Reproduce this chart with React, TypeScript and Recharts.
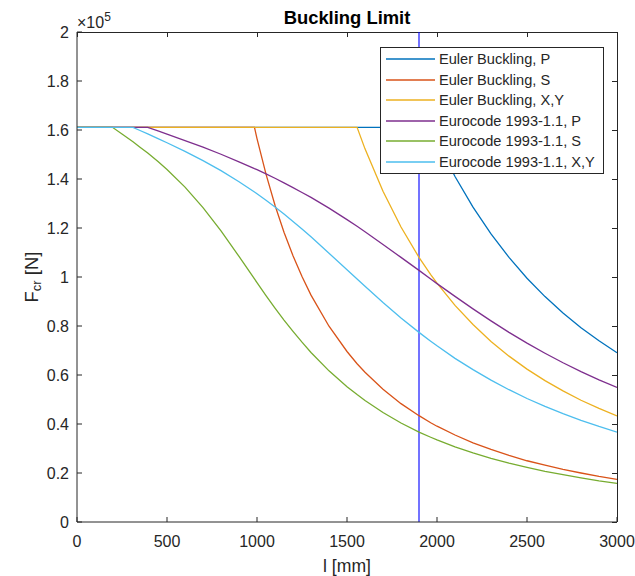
import { useLayoutEffect } from 'react';
import { LineChart, Line, XAxis, YAxis, Legend, ReferenceLine } from 'recharts';

const FONT = '"Liberation Sans", Arial, Helvetica, sans-serif';
const INK  = '#262626';

// column length l [mm]
const LENGTHS = [
  0, 100, 197, 250, 311, 350, 393, 450, 500, 600, 700, 800, 900, 986, 1000, 1050, 1100, 1150, 1200, 1250,
  1300, 1400, 1500, 1556, 1600, 1700, 1800, 1900, 1965, 2000, 2100, 2200, 2300, 2400, 2500, 2600, 2700, 2800, 2900, 3000,
];

// critical force F_cr, in units of 1e5 N
const EULER_P = [
  1.611, 1.611, 1.611, 1.611, 1.611, 1.611, 1.611, 1.611, 1.611, 1.611, 1.611, 1.611, 1.611, 1.611, 1.611, 1.611, 1.611, 1.611, 1.611, 1.611,
  1.611, 1.611, 1.611, 1.611, 1.611, 1.611, 1.611, 1.611, 1.611, 1.555, 1.410, 1.285, 1.176, 1.080, 0.995, 0.920, 0.853, 0.793, 0.740, 0.691,
];
const EULER_S = [
  1.611, 1.611, 1.611, 1.611, 1.611, 1.611, 1.611, 1.611, 1.611, 1.611, 1.611, 1.611, 1.611, 1.611, 1.565, 1.420, 1.293, 1.183, 1.087, 1.002,
  0.926, 0.799, 0.696, 0.646, 0.611, 0.542, 0.483, 0.434, 0.405, 0.391, 0.355, 0.323, 0.296, 0.272, 0.250, 0.232, 0.215, 0.200, 0.186, 0.174,
];
const EULER_XY = [
  1.611, 1.611, 1.611, 1.611, 1.611, 1.611, 1.611, 1.611, 1.611, 1.611, 1.611, 1.611, 1.611, 1.611, 1.611, 1.611, 1.611, 1.611, 1.611, 1.611,
  1.611, 1.611, 1.611, 1.611, 1.523, 1.350, 1.204, 1.080, 1.010, 0.975, 0.884, 0.806, 0.737, 0.677, 0.624, 0.577, 0.535, 0.497, 0.464, 0.433,
];
const EC_P = [
  1.611, 1.611, 1.611, 1.611, 1.611, 1.611, 1.611, 1.596, 1.583, 1.557, 1.530, 1.501, 1.470, 1.442, 1.438, 1.421, 1.403, 1.384, 1.365, 1.345,
  1.325, 1.281, 1.234, 1.207, 1.185, 1.133, 1.080, 1.027, 0.992, 0.973, 0.921, 0.870, 0.821, 0.774, 0.730, 0.689, 0.650, 0.614, 0.580, 0.549,
];
const EC_S = [
  1.611, 1.611, 1.611, 1.584, 1.552, 1.530, 1.506, 1.471, 1.439, 1.367, 1.283, 1.188, 1.084, 0.992, 0.977, 0.924, 0.873, 0.824, 0.778, 0.734,
  0.692, 0.617, 0.552, 0.520, 0.496, 0.447, 0.404, 0.367, 0.346, 0.335, 0.307, 0.282, 0.260, 0.240, 0.223, 0.207, 0.193, 0.180, 0.168, 0.158,
];
const EC_XY = [
  1.611, 1.611, 1.611, 1.611, 1.611, 1.598, 1.584, 1.565, 1.548, 1.513, 1.475, 1.434, 1.389, 1.347, 1.340, 1.313, 1.286, 1.257, 1.227, 1.196,
  1.164, 1.097, 1.030, 0.992, 0.962, 0.896, 0.833, 0.774, 0.738, 0.719, 0.668, 0.622, 0.579, 0.540, 0.504, 0.472, 0.442, 0.415, 0.390, 0.367,
];

const X_TICKS = [0, 500, 1000, 1500, 2000, 2500, 3000];
const Y_TICKS = [0, 0.2, 0.4, 0.6, 0.8, 1, 1.2, 1.4, 1.6, 1.8, 2];
const X_MAX = 3000;
const Y_MAX = 2;
const L_CHOSEN = 1900;

const SERIES = [
  { key: 'eulerP',  name: 'Euler Buckling, P',       color: '#0072BD', values: EULER_P },
  { key: 'eulerS',  name: 'Euler Buckling, S',       color: '#D95319', values: EULER_S },
  { key: 'eulerXY', name: 'Euler Buckling, X,Y',     color: '#EDB120', values: EULER_XY },
  { key: 'ecP',     name: 'Eurocode 1993-1.1, P',    color: '#7E2F8E', values: EC_P },
  { key: 'ecS',     name: 'Eurocode 1993-1.1, S',    color: '#77AC30', values: EC_S },
  { key: 'ecXY',    name: 'Eurocode 1993-1.1, X,Y',  color: '#4DBEEE', values: EC_XY },
];

const rows = LENGTHS.map((l, i) => {
  const row: Record<string, number> = { l };
  SERIES.forEach((s) => { row[s.key] = s.values[i]; });
  return row;
});

// plot box (px) — chart margins + axis sizes below put the plot exactly here
const BOX = { left: 77, top: 32, width: 540, height: 490 };

const tickStyle = { fill: INK, fontSize: 16, fontFamily: FONT };

function XLabel({ viewBox }: any) {
  const { x, y, width } = viewBox;
  return (
    <text x={x + width / 2} y={y + 44} textAnchor="middle" dominantBaseline="central"
      fill={INK} fontSize={17.6} fontFamily={FONT}>
      l [mm]
    </text>
  );
}

function YLabel() {
  return (
    <g fill={INK} fontFamily={FONT}>
      <text x={0} y={0} transform="translate(31 277) rotate(-90)" textAnchor="middle" dominantBaseline="central" fontSize={18.5}>
        F<tspan dy={5} fontSize={13}>cr</tspan><tspan dy={-5}> [N]</tspan>
      </text>
      <text x={77} y={28} fontSize={16}>
        ×10<tspan dy={-7} fontSize={12}>5</tspan>
      </text>
    </g>
  );
}

function LegendBox() {
  return (
    <div style={{ width: 224, boxSizing: 'border-box', border: `1px solid ${INK}`, background: '#fff', padding: '1px 0 1px 0' }}>
      {SERIES.map((s) => (
        <div key={s.key} style={{ display: 'flex', alignItems: 'center', height: 20.5 }}>
          <svg width={49} height={4} style={{ marginLeft: 5, marginRight: 4, flex: 'none' }}>
            <line x1={0} y1={2} x2={49} y2={2} stroke={s.color} strokeWidth={1.4} />
          </svg>
          <span style={{ fontSize: 14.6, color: INK, fontFamily: FONT, whiteSpace: 'nowrap', lineHeight: '20px' }}>{s.name}</span>
        </div>
      ))}
    </div>
  );
}

// top and right edges of the box with MATLAB-style inward ticks (plain html, under the chart svg)
function BoxFrame() {
  const { left, top, width, height } = BOX;
  const right = left + width;
  const px = (v: number) => Math.round(left + (v / X_MAX) * width);
  const py = (v: number) => Math.round(top + height - (v / Y_MAX) * height);
  const seg = (l: number, t: number, w: number, h: number, k: string) => (
    <div key={k} style={{ position: 'absolute', left: l, top: t, width: w, height: h, background: INK }} />
  );
  return (
    <>
      {seg(left, top, width + 1, 1, 'top')}
      {seg(right, top, 1, height, 'right')}
      {X_TICKS.map((t) => seg(px(t), top, 1, 5, `tx${t}`))}
      {Y_TICKS.map((t) => seg(right - 5, py(t), 5, 1, `ty${t}`))}
    </>
  );
}

export default function App() {
  useLayoutEffect(() => {
    document.body.style.margin = '0';
  }, []);

  return (
    <div style={{ position: 'relative', width: 635, height: 576, background: '#fff', fontFamily: FONT }}>
      <div style={{ position: 'absolute', left: 77, top: 7, width: 540, textAlign: 'center', fontWeight: 'bold', fontSize: 18.4, lineHeight: '21px', color: '#000' }}>
        Buckling Limit
      </div>
      <BoxFrame />
      <LineChart width={635} height={576} data={rows} margin={{ top: 32, right: 18, bottom: 24, left: 37 }}>
        <XAxis dataKey="l" type="number" domain={[0, X_MAX]} ticks={X_TICKS} height={30} allowDataOverflow
          stroke={INK} tickSize={-5} tickMargin={19} tick={tickStyle} label={<XLabel />} />
        <YAxis type="number" domain={[0, Y_MAX]} ticks={Y_TICKS} width={40} allowDataOverflow
          stroke={INK} tickSize={-5} tickMargin={13} tick={tickStyle} label={<YLabel />} />
        <ReferenceLine x={L_CHOSEN} stroke="#0000ff" strokeOpacity={0.55} strokeWidth={2} />
        {SERIES.map((s) => (
          <Line key={s.key} dataKey={s.key} name={s.name} type="linear" stroke={s.color} strokeWidth={1.3}
            dot={false} activeDot={false} isAnimationActive={false} />
        ))}
        <Legend layout="vertical" align="center" verticalAlign="middle" content={<LegendBox />}
          wrapperStyle={{ left: 380, top: 47, width: 224 }} />
      </LineChart>
    </div>
  );
}
